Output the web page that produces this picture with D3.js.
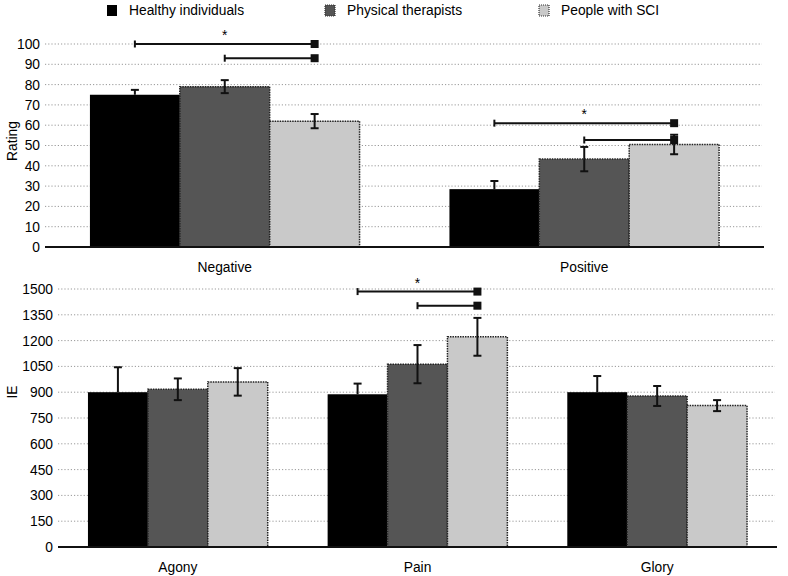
<!DOCTYPE html>
<html>
<head>
<meta charset="UTF-8">
<title>Rating and IE</title>
<script src="https://cdn.jsdelivr.net/npm/d3@7"></script>
<style>
  body { margin: 0; background: #fff; }
  text { font-family: "Liberation Sans", Arial, sans-serif; fill: #000; }
  .grid line { stroke: #999; stroke-dasharray: 1.2,2; stroke-width: 1; }
</style>
</head>
<body>
<svg width="788" height="576"></svg>
<script>
// series names
var groups = ["Healthy individuals", "Physical therapists", "People with SCI"];

// top panel: Rating
var ratingCats = ["Negative", "Positive"];
var ratingTicks = [0, 10, 20, 30, 40, 50, 60, 70, 80, 90, 100];
var ratingHealthy = [75, 28.5];
var ratingPhysio = [79, 43.3];
var ratingSci = [62, 50.5];
var ratingHealthyErr = [2.4, 4];
var ratingPhysioErr = [3.2, 6];
var ratingSciErr = [3.5, 4.8];
var ratingBrackets = [
  {cat: "Negative", from: 0, to: 2, y: 100, star: true},
  {cat: "Negative", from: 1, to: 2, y: 93, star: false},
  {cat: "Positive", from: 0, to: 2, y: 61, star: true},
  {cat: "Positive", from: 1, to: 2, y: 52.7, star: false}
];

// bottom panel: IE
var ieCats = ["Agony", "Pain", "Glory"];
var ieTicks = [0, 150, 300, 450, 600, 750, 900, 1050, 1200, 1350, 1500];
var ieHealthy = [900, 888, 900];
var iePhysio = [917, 1063, 878];
var ieSci = [960, 1222, 822];
var ieHealthyErr = [145, 62, 94];
var iePhysioErr = [63, 111, 58];
var ieSciErr = [80, 110, 32];
var ieBrackets = [
  {cat: "Pain", from: 0, to: 2, y: 1485, star: true},
  {cat: "Pain", from: 1, to: 2, y: 1403, star: false}
];

var fills = ["#000", "#555", "#c9c9c9"];
var dotted = [false, true, true];
var fs = 13.8;

var svg = d3.select("svg");

// legend
var legendX = [107, 325, 539];
var legend = svg.append("g");
groups.forEach(function(g, i) {
  legend.append("rect")
    .attr("x", legendX[i]).attr("y", 5).attr("width", 10).attr("height", 11)
    .attr("fill", fills[i])
    .attr("stroke", i == 0 ? "none" : "#333")
    .attr("stroke-width", 1.2)
    .attr("stroke-dasharray", "1,1");
  legend.append("text")
    .attr("x", legendX[i] + 22).attr("y", 15)
    .attr("font-size", fs)
    .text(g);
});

function panel(opt) {
  var x = d3.scaleBand().domain(opt.cats).range(opt.xr).paddingInner(0.25).paddingOuter(0.125);
  var xs = d3.scaleBand().domain(d3.range(3)).range([0, x.bandwidth()]);
  var y = d3.scaleLinear().domain(opt.domain).range(opt.yr);
  var g = svg.append("g");

  // gridlines
  g.append("g").attr("class", "grid")
    .selectAll("line")
    .data(opt.ticks.filter(function(t) { return t > 0; }))
    .enter().append("line")
    .attr("x1", opt.xr[0]).attr("x2", opt.xr[1] - 2)
    .attr("y1", function(d) { return y(d); })
    .attr("y2", function(d) { return y(d); });

  // y axis labels
  var yAxis = g.append("g")
    .attr("transform", "translate(" + (opt.xr[0] - 2) + ",0)")
    .call(d3.axisLeft(y).tickValues(opt.ticks).tickFormat(d3.format("d")).tickSize(0).tickPadding(3));
  yAxis.select(".domain").remove();
  yAxis.selectAll("text").attr("font-size", fs).attr("fill", "#000")
    .style("font-family", "Liberation Sans, Arial, sans-serif");

  // y title
  g.append("text")
    .attr("transform", "translate(17," + opt.titleY + ") rotate(-90)")
    .attr("text-anchor", "middle")
    .attr("font-size", fs)
    .text(opt.title);

  // bars
  opt.cats.forEach(function(c, ci) {
    opt.series.forEach(function(s, si) {
      var bx = x(c) + xs(si);
      var v = s.values[ci];
      g.append("rect")
        .attr("x", bx).attr("y", y(v))
        .attr("width", xs.bandwidth()).attr("height", y(0) - y(v))
        .attr("fill", fills[si])
        .attr("stroke", dotted[si] ? "#222" : "none")
        .attr("stroke-width", 1.5)
        .attr("stroke-dasharray", "1.5,1");
    });
  });

  // error bars (the black series only shows its upper half)
  opt.cats.forEach(function(c, ci) {
    opt.series.forEach(function(s, si) {
      var cx = x(c) + xs(si) + xs.bandwidth() / 2;
      var v = s.values[ci], e = s.err[ci];
      var lo = si == 0 ? v : v - e;
      var eb = g.append("g").attr("stroke", "#111").attr("stroke-width", 2);
      eb.append("line").attr("x1", cx).attr("x2", cx).attr("y1", y(v + e)).attr("y2", y(lo));
      eb.append("line").attr("x1", cx - 4).attr("x2", cx + 4).attr("y1", y(v + e)).attr("y2", y(v + e));
      if (si != 0) {
        eb.append("line").attr("x1", cx - 4).attr("x2", cx + 4).attr("y1", y(lo)).attr("y2", y(lo));
      }
    });
  });

  // baseline
  g.append("line")
    .attr("x1", opt.xr[0]).attr("x2", opt.xr[1])
    .attr("y1", y(0)).attr("y2", y(0))
    .attr("stroke", "#111").attr("stroke-width", 2);

  // category labels
  g.selectAll(".cat").data(opt.cats).enter().append("text")
    .attr("x", function(d) { return x(d) + x.bandwidth() / 2; })
    .attr("y", y(0) + 25)
    .attr("text-anchor", "middle")
    .attr("font-size", fs)
    .text(function(d) { return d; });

  // significance brackets
  opt.brackets.forEach(function(b) {
    var x1 = x(b.cat) + xs(b.from) + xs.bandwidth() / 2;
    var x2 = x(b.cat) + xs(b.to) + xs.bandwidth() / 2;
    var by = y(b.y);
    g.append("line").attr("x1", x1).attr("x2", x2).attr("y1", by).attr("y2", by)
      .attr("stroke", "#111").attr("stroke-width", 2);
    g.append("line").attr("x1", x1).attr("x2", x1).attr("y1", by - 3.5).attr("y2", by + 3.5)
      .attr("stroke", "#111").attr("stroke-width", 2);
    g.append("rect").attr("x", x2 - 4).attr("y", by - 4).attr("width", 8).attr("height", 8)
      .attr("fill", "#111");
    if (b.star) {
      g.append("text").attr("x", (x1 + x2) / 2).attr("y", by - 4)
        .attr("text-anchor", "middle").attr("font-size", fs).text("*");
    }
  });
}

panel({
  cats: ratingCats, ticks: ratingTicks, domain: [0, 100],
  xr: [45, 764], yr: [247, 44], title: "Rating", titleY: 141,
  series: [
    {values: ratingHealthy, err: ratingHealthyErr},
    {values: ratingPhysio, err: ratingPhysioErr},
    {values: ratingSci, err: ratingSciErr}
  ],
  brackets: ratingBrackets
});

panel({
  cats: ieCats, ticks: ieTicks, domain: [0, 1500],
  xr: [58, 777], yr: [547, 289], title: "IE", titleY: 392,
  series: [
    {values: ieHealthy, err: ieHealthyErr},
    {values: iePhysio, err: iePhysioErr},
    {values: ieSci, err: ieSciErr}
  ],
  brackets: ieBrackets
});
</script>
</body>
</html>
